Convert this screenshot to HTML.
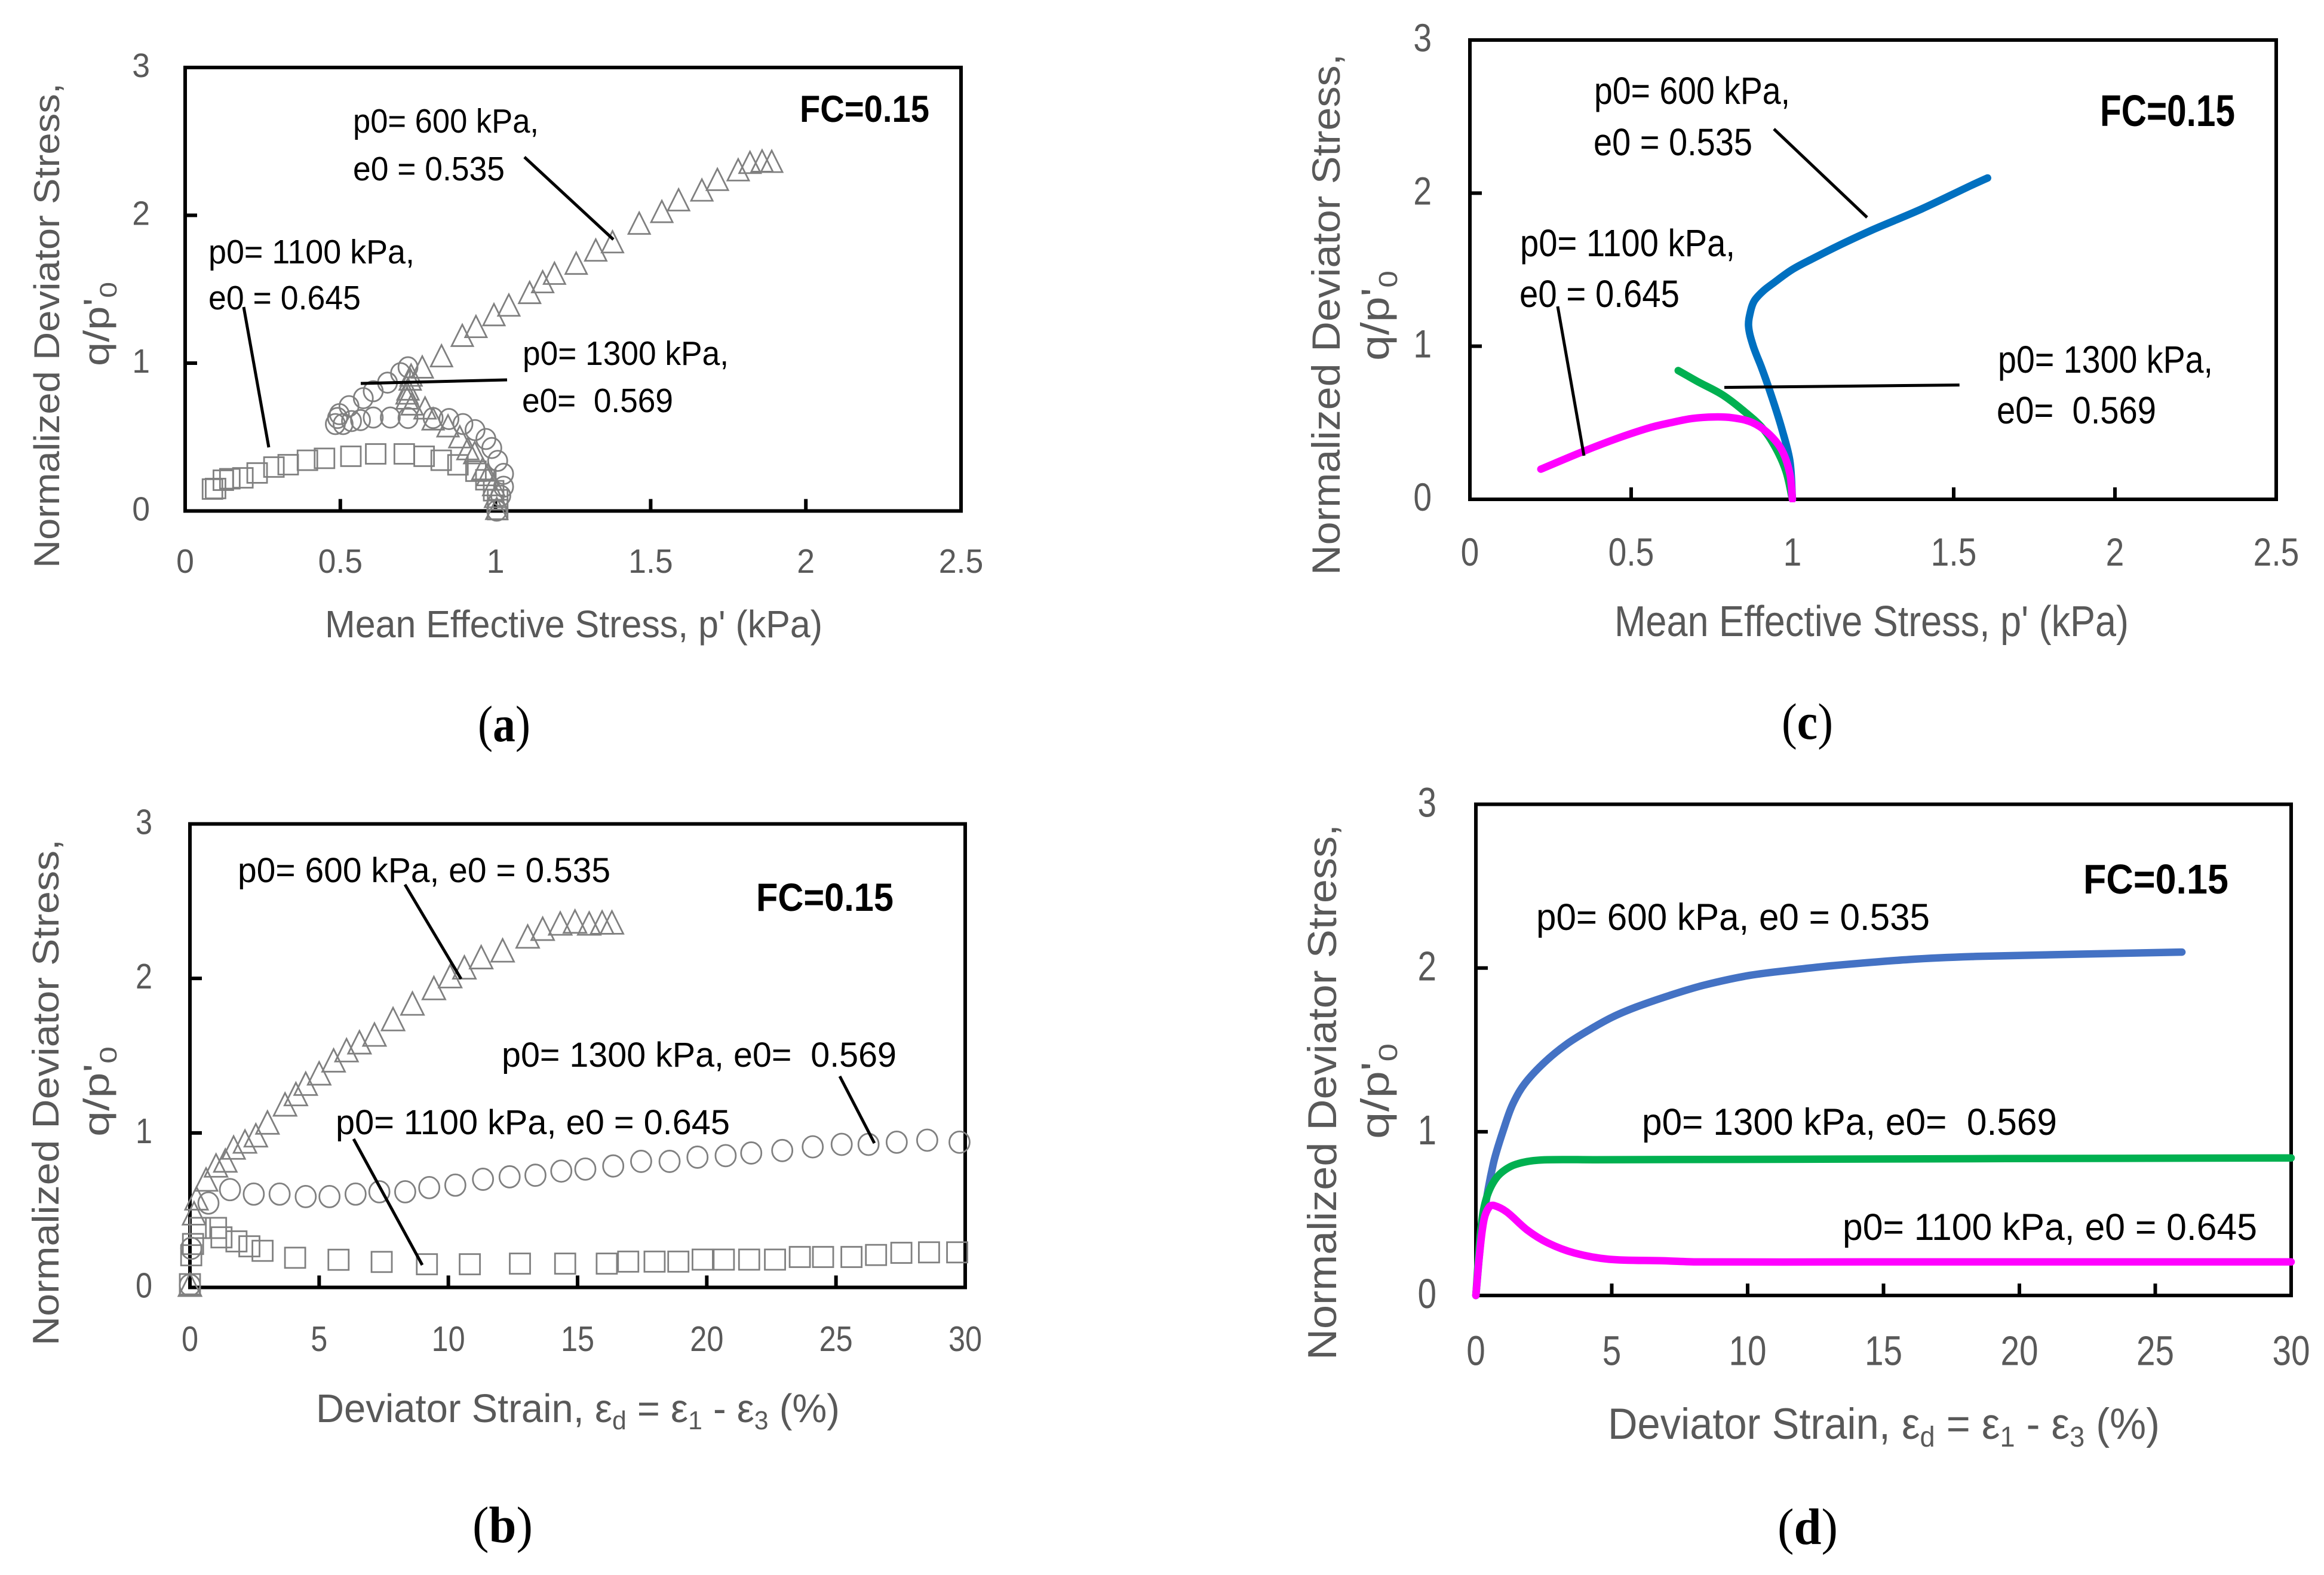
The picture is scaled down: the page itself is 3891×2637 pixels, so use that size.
<!DOCTYPE html>
<html lang="en">
<head>
<meta charset="utf-8">
<title>Normalized deviator stress charts, FC=0.15</title>
<style>
html,body{margin:0;padding:0;background:#fff}
svg{display:block}
text{font-family:"Liberation Sans",sans-serif}
.tick{fill:#595959}
.title{fill:#595959}
.ann{fill:#000}
.fc{fill:#000;font-weight:bold}
.cap{font-family:"Liberation Serif",serif;fill:#000}
.leader{stroke:#000;stroke-width:5;fill:none}
</style>
</head>
<body>
<svg xmlns="http://www.w3.org/2000/svg" width="3891" height="2637" viewBox="0 0 3891 2637">
<rect width="3891" height="2637" fill="#fff"/>

<!-- PANEL A -->
<g>
  <g id="plot-a"></g>
  <text class="title" font-size="60" transform="translate(99,951) rotate(-90)" textLength="812" lengthAdjust="spacingAndGlyphs">Normalized Deviator Stress,</text>
  <text class="title" font-size="60" transform="translate(182,613) rotate(-90)" textLength="141" lengthAdjust="spacingAndGlyphs">q/p'<tspan font-size="40" dy="13">0</tspan></text>
  <text class="title" font-size="64" x="544" y="1067" textLength="833" lengthAdjust="spacingAndGlyphs">Mean Effective Stress, p' (kPa)</text>
  <text class="fc" font-size="63" x="1339" y="204" textLength="217" lengthAdjust="spacingAndGlyphs">FC=0.15</text>
  <text class="ann" font-size="57" x="591" y="222" textLength="311" lengthAdjust="spacingAndGlyphs">p0= 600 kPa,</text>
  <text class="ann" font-size="57" x="591" y="302" textLength="254" lengthAdjust="spacingAndGlyphs">e0 = 0.535</text>
  <text class="ann" font-size="57" x="349" y="441" textLength="345" lengthAdjust="spacingAndGlyphs">p0= 1100 kPa,</text>
  <text class="ann" font-size="57" x="349" y="518" textLength="255" lengthAdjust="spacingAndGlyphs">e0 = 0.645</text>
  <text class="ann" font-size="57" x="875" y="611" textLength="345" lengthAdjust="spacingAndGlyphs">p0= 1300 kPa,</text>
  <text class="ann" font-size="57" x="874" y="690" textLength="253" lengthAdjust="spacingAndGlyphs" xml:space="preserve">e0=  0.569</text>
  <line class="leader" x1="878" y1="263" x2="1027" y2="401"/>
  <line class="leader" x1="408" y1="514" x2="450" y2="749"/>
  <line class="leader" x1="604" y1="642" x2="849" y2="636"/>
  <text class="cap" font-size="86" x="800" y="1241" textLength="88" lengthAdjust="spacingAndGlyphs">(<tspan font-weight="bold">a</tspan>)</text>
</g>

<!-- PANEL B -->
<g>
  <g id="plot-b"></g>
  <text class="title" font-size="62" transform="translate(98,2253) rotate(-90)" textLength="848" lengthAdjust="spacingAndGlyphs">Normalized Deviator Stress,</text>
  <text class="title" font-size="60" transform="translate(182,1903) rotate(-90)" textLength="151" lengthAdjust="spacingAndGlyphs">q/p'<tspan font-size="40" dy="13">0</tspan></text>
  <text class="title" font-size="67" x="529" y="2381" textLength="877" lengthAdjust="spacingAndGlyphs">Deviator Strain, ε<tspan font-size="44" dy="12">d</tspan><tspan dy="-12"> = ε</tspan><tspan font-size="44" dy="12">1</tspan><tspan dy="-12"> - ε</tspan><tspan font-size="44" dy="12">3</tspan><tspan dy="-12"> (%)</tspan></text>
  <text class="fc" font-size="66" x="1266" y="1525" textLength="230" lengthAdjust="spacingAndGlyphs">FC=0.15</text>
  <text class="ann" font-size="58" x="398" y="1477" textLength="624" lengthAdjust="spacingAndGlyphs">p0= 600 kPa, e0 = 0.535</text>
  <text class="ann" font-size="58" x="840" y="1786" textLength="661" lengthAdjust="spacingAndGlyphs" xml:space="preserve">p0= 1300 kPa, e0=  0.569</text>
  <text class="ann" font-size="58" x="562" y="1899" textLength="660" lengthAdjust="spacingAndGlyphs">p0= 1100 kPa, e0 = 0.645</text>
  <line class="leader" x1="678" y1="1481" x2="772" y2="1639"/>
  <line class="leader" x1="1406" y1="1802" x2="1464" y2="1914"/>
  <line class="leader" x1="592" y1="1907" x2="707" y2="2118"/>
  <text class="cap" font-size="86" x="791" y="2582" textLength="101" lengthAdjust="spacingAndGlyphs">(<tspan font-weight="bold">b</tspan>)</text>
</g>

<!-- PANEL C -->
<g>
  <g id="plot-c"></g>
  <text class="title" font-size="66" transform="translate(2243,963) rotate(-90)" textLength="873" lengthAdjust="spacingAndGlyphs">Normalized Deviator Stress,</text>
  <text class="title" font-size="66" transform="translate(2325,604) rotate(-90)" textLength="151" lengthAdjust="spacingAndGlyphs">q/p'<tspan font-size="44" dy="14">0</tspan></text>
  <text class="title" font-size="72" x="2703" y="1065" textLength="861" lengthAdjust="spacingAndGlyphs">Mean Effective Stress, p' (kPa)</text>
  <text class="fc" font-size="74" x="3516" y="211" textLength="226" lengthAdjust="spacingAndGlyphs">FC=0.15</text>
  <text class="ann" font-size="64" x="2669" y="174" textLength="328" lengthAdjust="spacingAndGlyphs">p0= 600 kPa,</text>
  <text class="ann" font-size="64" x="2668" y="260" textLength="266" lengthAdjust="spacingAndGlyphs">e0 = 0.535</text>
  <text class="ann" font-size="64" x="2545" y="429" textLength="360" lengthAdjust="spacingAndGlyphs">p0= 1100 kPa,</text>
  <text class="ann" font-size="64" x="2544" y="514" textLength="268" lengthAdjust="spacingAndGlyphs">e0 = 0.645</text>
  <text class="ann" font-size="64" x="3345" y="624" textLength="360" lengthAdjust="spacingAndGlyphs">p0= 1300 kPa,</text>
  <text class="ann" font-size="64" x="3343" y="709" textLength="267" lengthAdjust="spacingAndGlyphs" xml:space="preserve">e0=  0.569</text>
  <line class="leader" x1="2970" y1="216" x2="3126" y2="364"/>
  <line class="leader" x1="2608" y1="513" x2="2652" y2="763"/>
  <line class="leader" x1="2887" y1="648.6" x2="3280.7" y2="644.6"/>
  <text class="cap" font-size="86" x="2983" y="1237" textLength="86" lengthAdjust="spacingAndGlyphs">(<tspan font-weight="bold">c</tspan>)</text>
</g>

<!-- PANEL D -->
<g>
  <g id="plot-d"></g>
  <text class="title" font-size="68" transform="translate(2237,2277) rotate(-90)" textLength="897" lengthAdjust="spacingAndGlyphs">Normalized Deviator Stress,</text>
  <text class="title" font-size="66" transform="translate(2325,1907) rotate(-90)" textLength="160" lengthAdjust="spacingAndGlyphs">q/p'<tspan font-size="44" dy="14">0</tspan></text>
  <text class="title" font-size="73" x="2692" y="2409" textLength="924" lengthAdjust="spacingAndGlyphs">Deviator Strain, ε<tspan font-size="48" dy="13">d</tspan><tspan dy="-13"> = ε</tspan><tspan font-size="48" dy="13">1</tspan><tspan dy="-13"> - ε</tspan><tspan font-size="48" dy="13">3</tspan><tspan dy="-13"> (%)</tspan></text>
  <text class="fc" font-size="70" x="3488" y="1496" textLength="243" lengthAdjust="spacingAndGlyphs">FC=0.15</text>
  <text class="ann" font-size="63" x="2572" y="1557" textLength="659" lengthAdjust="spacingAndGlyphs">p0= 600 kPa, e0 = 0.535</text>
  <text class="ann" font-size="63" x="2749" y="1900" textLength="695" lengthAdjust="spacingAndGlyphs" xml:space="preserve">p0= 1300 kPa, e0=  0.569</text>
  <text class="ann" font-size="63" x="3085" y="2076" textLength="694" lengthAdjust="spacingAndGlyphs">p0= 1100 kPa, e0 = 0.645</text>
  <text class="cap" font-size="86" x="2976" y="2585" textLength="101" lengthAdjust="spacingAndGlyphs">(<tspan font-weight="bold">d</tspan>)</text>
</g>

<script>
// ---- tick labels ----
const stressTickLabels = ['0','0.5','1','1.5','2','2.5'];
const strainTickLabels = ['0','5','10','15','20','25','30'];
const qTickLabels = ['0','1','2','3'];

// ---- panel (a): q/p0 vs p' experimental ----
const a600P = [1.004,1.0,.994,.975,.959,.933,.911,.885,.847,.799,.773,.731,.715,.715,.718,.725,.728,.764,.826,.893,.937,.995,1.043,1.11,1.152,1.19,1.26,1.323,1.377,1.463,1.536,1.59,1.665,1.715,1.782,1.82,1.859,1.89];
const a600Q = [.009,.09,.17,.238,.278,.386,.413,.494,.568,.615,.689,.716,.756,.79,.817,.884,.911,.966,1.042,1.18,1.24,1.32,1.385,1.47,1.543,1.6,1.668,1.757,1.813,1.939,2.018,2.097,2.163,2.235,2.3,2.35,2.36,2.357];
const a1300P = [1.004,1.017,1.026,1.026,1.007,.988,.969,.934,.895,.85,.799,.718,.661,.606,.565,.536,.509,.484,.491,.497,.528,.574,.606,.652,.694,.718];
const a1300Q = [.002,.103,.164,.251,.339,.426,.487,.547,.588,.622,.629,.629,.632,.632,.615,.608,.588,.588,.629,.655,.709,.763,.81,.868,.932,.972];
const a1100P = [1.007,1.007,.994,.969,.937,.879,.825,.77,.706,.614,.534,.449,.394,.332,.286,.232,.186,.144,.123,.098,.088];
const a1100Q = [.009,.076,.137,.211,.269,.312,.343,.37,.386,.386,.37,.356,.343,.313,.297,.257,.224,.218,.208,.152,.148];

// ---- panel (b): q/p0 vs strain experimental ----
const b600E = [0,.16,.254,.624,1.01,1.37,1.69,2.13,2.55,3.0,3.68,4.1,4.48,5.0,5.56,6.06,6.56,7.14,7.86,8.61,9.44,10.07,10.62,11.27,12.1,13.07,13.65,14.33,14.9,15.45,15.95,16.33];
const b600Q = [.01,.472,.569,.691,.782,.814,.898,.937,.977,1.06,1.177,1.244,1.311,1.378,1.462,1.528,1.579,1.629,1.729,1.83,1.93,2.007,2.064,2.13,2.174,2.264,2.314,2.348,2.361,2.348,2.355,2.355];
const b1300E = [0,.05,.716,1.55,2.47,3.47,4.48,5.4,6.41,7.33,8.33,9.26,10.27,11.34,12.37,13.37,14.37,15.3,16.38,17.46,18.56,19.64,20.73,21.72,22.92,24.1,25.22,26.26,27.35,28.53,29.78];
const b1300Q = [.015,.253,.546,.633,.604,.604,.588,.588,.604,.619,.619,.646,.662,.7,.716,.726,.753,.766,.786,.816,.816,.843,.853,.87,.886,.91,.926,.926,.94,.953,.94];
const b1100E = [0,.05,.12,.39,1.01,1.22,1.8,2.3,2.81,4.07,5.75,7.42,9.17,10.83,12.77,14.52,16.13,16.96,17.98,18.9,19.84,20.66,21.64,22.64,23.6,24.5,25.6,26.55,27.53,28.6,29.69];
const b1100Q = [.021,.208,.281,.385,.385,.324,.298,.266,.237,.192,.179,.165,.15,.15,.154,.154,.154,.167,.167,.167,.18,.18,.18,.18,.197,.197,.197,.21,.224,.227,.227];

// ---- panel (c): q/p0 vs p' model ----
const c600P = [1,.992,.967,.936,.906,.878,.864,.87,.882,.909,.939,.998,1.06,1.152,1.245,1.4,1.554,1.605];
const c600Q = [0,.252,.461,.67,.851,1.004,1.13,1.227,1.297,1.36,1.409,1.499,1.569,1.666,1.757,1.896,2.05,2.099];
const c1300P = [1,.98,.948,.906,.844,.782,.708,.646];
const c1300Q = [0,.183,.336,.468,.586,.684,.767,.841];
const c1100P = [1,.992,.967,.924,.874,.813,.757,.689,.628,.558,.453,.347,.22];
const c1100Q = [0,.168,.322,.433,.503,.533,.538,.528,.503,.468,.395,.309,.197];

// ---- panel (d): q/p0 vs strain model ----
const d600E = [0,.25,.635,1.07,1.36,1.78,2.5,3.34,4.18,5.02,5.87,7.12,8.39,10.07,11.75,13.17,15.94,18.45,21.97,25.98];
const d600Q = [0,.433,.8,1.04,1.17,1.29,1.42,1.535,1.623,1.7,1.76,1.832,1.895,1.955,1.99,2.015,2.052,2.071,2.084,2.097];
const d1300E = [0,.18,.38,.75,1.26,1.88,2.64,4.4,11.9,19.5,30];
const d1300Q = [0,.4,.59,.717,.786,.818,.829,.829,.832,.836,.84];
const d1100E = [0,.13,.3,.5,.68,1.13,1.88,2.64,3.64,4.9,6.9,8.16,14.4,30];
const d1100Q = [0,.243,.464,.543,.549,.511,.401,.322,.259,.221,.212,.205,.205,.205];

const NS = 'http://www.w3.org/2000/svg';
function make(tag, parent, name, props) {
  const el = document.createElementNS(NS, tag);
  for (const k in props) el.setAttribute(k, props[k]);
  
  
  parent.appendChild(el);
  return el;
}
function unit(a, b) {
  const dx = b[0] - a[0], dy = b[1] - a[1], n = Math.hypot(dx, dy) || 1;
  return [dx / n, dy / n];
}
// smooth path through the points, control arms scaled to each segment's own length
function smoothPath(pts) {
  let d = 'M' + pts[0][0].toFixed(1) + ' ' + pts[0][1].toFixed(1);
  for (let i = 0; i < pts.length - 1; i++) {
    const p0 = pts[Math.max(0, i - 1)], p1 = pts[i], p2 = pts[i + 1], p3 = pts[Math.min(pts.length - 1, i + 2)];
    const L = Math.hypot(p2[0] - p1[0], p2[1] - p1[1]) / 3;
    const t1 = unit(p0, p2), t2 = unit(p1, p3);
    d += 'C' + (p1[0] + t1[0] * L).toFixed(1) + ' ' + (p1[1] + t1[1] * L).toFixed(1) + ' ' + (p2[0] - t2[0] * L).toFixed(1) + ' ' + (p2[1] - t2[1] * L).toFixed(1) + ' ' + p2[0].toFixed(1) + ' ' + p2[1].toFixed(1);
  }
  return d;
}
function panel(id, box, xLabels, opt) {
  const g = document.getElementById(id);
  const xMax = parseFloat(xLabels[xLabels.length - 1]);
  const yMax = 3;
  const sx = v => box.l + v / xMax * (box.r - box.l);
  const sy = v => box.b - v / yMax * (box.b - box.t);
  make('rect', g, 'plot-frame', {x: box.l, y: box.t, width: box.r - box.l, height: box.b - box.t, fill: 'none', stroke: '#000', 'stroke-width': 6});
  xLabels.forEach(lbl => {
    const v = parseFloat(lbl), x = sx(v);
    if (v > 0 && v < xMax) make('line', g, 'x-tick', {x1: x, x2: x, y1: box.b, y2: box.b - 20, stroke: '#000', 'stroke-width': 6});
    const t = make('text', g, 'x-tick-label', {class: 'tick', 'font-size': opt.font, 'text-anchor': 'middle', transform: 'translate(' + x + ',' + opt.xBase + ') scale(' + opt.stretch + ',1)'});
    t.textContent = lbl;
  });
  qTickLabels.forEach(lbl => {
    const v = parseFloat(lbl), y = sy(v);
    if (v > 0 && v < yMax) make('line', g, 'y-tick', {x1: box.l, x2: box.l + 20, y1: y, y2: y, stroke: '#000', 'stroke-width': 6});
    const t = make('text', g, 'y-tick-label', {class: 'tick', 'font-size': opt.font, 'text-anchor': 'end', transform: 'translate(' + (box.l - opt.yGap) + ',' + (y + opt.yOff) + ') scale(' + opt.stretch + ',1)'});
    t.textContent = lbl;
  });
  return {g, sx, sy};
}
function markers(p, xs, ys, shape, r, name) {
  xs.forEach((xv, i) => {
    const x = p.sx(xv), y = p.sy(ys[i]);
    const common = {fill: 'none', stroke: '#808080', 'stroke-width': 2.8};
    if (shape === 'tri') {
      make('polygon', p.g, name, Object.assign({points: x + ',' + (y - r - 3) + ' ' + (x + r + 1) + ',' + (y + r - 1) + ' ' + (x - r - 1) + ',' + (y + r - 1)}, common));
    } else if (shape === 'circ') {
      make('ellipse', p.g, name, Object.assign({cx: x, cy: y, rx: r, ry: r + 1}, common));
    } else {
      make('rect', p.g, name, Object.assign({x: x - r, y: y - r, width: 2 * r, height: 2 * r}, common));
    }
  });
}
function curve(p, xs, ys, color, w, name, clip) {
  const pts = xs.map((xv, i) => [p.sx(xv), p.sy(ys[i])]);
  const el = make('path', p.g, name, {d: smoothPath(pts), fill: 'none', stroke: color, 'stroke-width': w, 'stroke-linecap': 'round', 'stroke-linejoin': 'round'});
  if (clip) el.setAttribute('clip-path', 'url(#' + clip + ')');
}

const pa = panel('plot-a', {l: 310, r: 1609, t: 113, b: 855.5}, stressTickLabels, {font: 57, stretch: .94, xBase: 959, yGap: 59, yOff: 16});
markers(pa, a1100P, a1100Q, 'sq', 16.5, 'marker-1100-kpa');
markers(pa, a1300P, a1300Q, 'circ', 16, 'marker-1300-kpa');
markers(pa, a600P, a600Q, 'tri', 17, 'marker-600-kpa');

const pb = panel('plot-b', {l: 318, r: 1616, t: 1379.5, b: 2155.5}, strainTickLabels, {font: 59, stretch: .855, xBase: 2262, yGap: 63, yOff: 17});
markers(pb, b1100E, b1100Q, 'sq', 17, 'marker-1100-kpa');
markers(pb, b1300E, b1300Q, 'circ', 17, 'marker-1300-kpa');
markers(pb, b600E, b600Q, 'tri', 18, 'marker-600-kpa');

const pc = panel('plot-c', {l: 2461, r: 3811, t: 67, b: 836}, stressTickLabels, {font: 66, stretch: .836, xBase: 947, yGap: 64, yOff: 19});
const clipC = make('clipPath', pc.g, 'curve-clip', {id: 'clip-c'});
make('rect', clipC, 'curve-clip-rect', {x: 2400, y: 0, width: 1480, height: 841});
curve(pc, c600P, c600Q, '#0070c0', 12.5, 'curve-600-kpa', 'clip-c');
curve(pc, c1300P, c1300Q, '#00b050', 12.5, 'curve-1300-kpa', 'clip-c');
curve(pc, c1100P, c1100Q, '#ff00ff', 12.5, 'curve-1100-kpa', 'clip-c');

const pd = panel('plot-d', {l: 2471, r: 3836, t: 1346.6, b: 2169}, strainTickLabels, {font: 70, stretch: .81, xBase: 2285.6, yGap: 66, yOff: 21});
curve(pd, d600E, d600Q, '#4472c4', 12.5, 'curve-600-kpa');
curve(pd, d1300E, d1300Q, '#00b050', 12.5, 'curve-1300-kpa');
curve(pd, d1100E, d1100Q, '#ff00ff', 12.5, 'curve-1100-kpa');
</script>
</svg>
</body>
</html>
